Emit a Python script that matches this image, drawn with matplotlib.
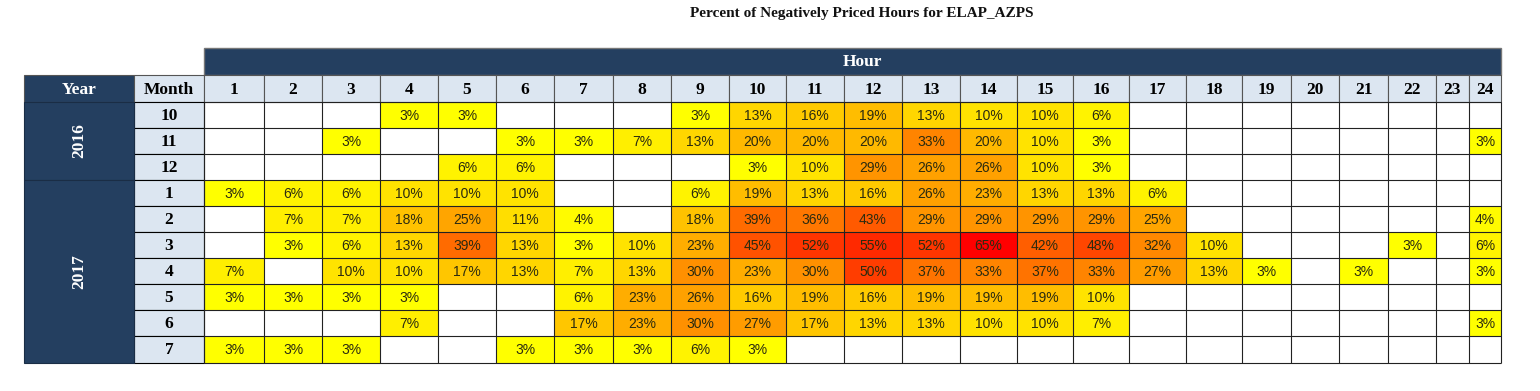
import numpy as np
import matplotlib.pyplot as plt
from matplotlib.colors import LinearSegmentedColormap
from matplotlib.patches import Rectangle

# ==========================================
# DATA: percent of negatively priced hours (None = none)
# ==========================================
hours = [str(h) for h in range(1, 25)]
years = ['2016', '2017']
months_2016 = ['10', '11', '12']
months_2017 = ['1', '2', '3', '4', '5', '6', '7']

N = None
pct_2016_10 = [N, N, N, 3, 3, N, N, N, 3, 13, 16, 19, 13, 10, 10, 6, N, N, N, N, N, N, N, N]
pct_2016_11 = [N, N, 3, N, N, 3, 3, 7, 13, 20, 20, 20, 33, 20, 10, 3, N, N, N, N, N, N, N, 3]
pct_2016_12 = [N, N, N, N, 6, 6, N, N, N, 3, 10, 29, 26, 26, 10, 3, N, N, N, N, N, N, N, N]
pct_2017_01 = [3, 6, 6, 10, 10, 10, N, N, 6, 19, 13, 16, 26, 23, 13, 13, 6, N, N, N, N, N, N, N]
pct_2017_02 = [N, 7, 7, 18, 25, 11, 4, N, 18, 39, 36, 43, 29, 29, 29, 29, 25, N, N, N, N, N, N, 4]
pct_2017_03 = [N, 3, 6, 13, 39, 13, 3, 10, 23, 45, 52, 55, 52, 65, 42, 48, 32, 10, N, N, N, 3, N, 6]
pct_2017_04 = [7, N, 10, 10, 17, 13, 7, 13, 30, 23, 30, 50, 37, 33, 37, 33, 27, 13, 3, N, 3, N, N, 3]
pct_2017_05 = [3, 3, 3, 3, N, N, 6, 23, 26, 16, 19, 16, 19, 19, 19, 10, N, N, N, N, N, N, N, N]
pct_2017_06 = [N, N, N, 7, N, N, 17, 23, 30, 27, 17, 13, 13, 10, 10, 7, N, N, N, N, N, N, N, 3]
pct_2017_07 = [3, 3, 3, N, N, 3, 3, 3, 6, 3, N, N, N, N, N, N, N, N, N, N, N, N, N, N]

rows = [pct_2016_10, pct_2016_11, pct_2016_12,
        pct_2017_01, pct_2017_02, pct_2017_03, pct_2017_04,
        pct_2017_05, pct_2017_06, pct_2017_07]
months = months_2016 + months_2017
year_counts = [len(months_2016), len(months_2017)]

grid = np.array([[np.nan if v is None else v for v in r] for r in rows], dtype=float)

# ==========================================
# LAYOUT (pixels)
# ==========================================
NAVY = '#243f60'
LIGHT = '#dce6f1'
TXT = '#2b2b10'

col_w = [60, 58, 58, 58, 58, 58, 59, 58, 58, 57, 58, 58, 58, 57,
         56, 56, 57, 56, 49, 48, 49, 48, 33, 32]
row_h = [26] * 9 + [27]
x0_year, x0_month, x0_grid = 24, 134, 204
y_band, y_head, y0_grid = 48, 75, 102

x_edges = x0_grid + np.concatenate([[0], np.cumsum(col_w)])
y_edges = y0_grid + np.concatenate([[0], np.cumsum(row_h)])

fig = plt.figure(figsize=(15.4, 3.91), dpi=100)
ax = fig.add_axes([0, 0, 1, 1])
ax.set_xlim(0, 1540)
ax.set_ylim(391, 0)
ax.axis('off')

cmap = LinearSegmentedColormap.from_list('yr', ['#ffff00', '#ff0000'])
cmap.set_bad('white')
ax.pcolormesh(x_edges, y_edges, np.ma.masked_invalid(grid), cmap=cmap,
              vmin=np.nanmin(grid), vmax=np.nanmax(grid))

cell_font = 'Liberation Sans'
head_font = 'Liberation Serif'
HS = 12.5  # header font size

# cell labels
for i in range(grid.shape[0]):
    for j in range(grid.shape[1]):
        if not np.isnan(grid[i, j]):
            ax.text((x_edges[j] + x_edges[j + 1]) / 2, (y_edges[i] + y_edges[i + 1]) / 2 + 1,
                    f"{grid[i, j]:.0f}%", ha='center', va='center', fontsize=10,
                    color=TXT, family=cell_font)

# Hour band
ax.add_patch(Rectangle((x_edges[0], y_band), x_edges[-1] - x_edges[0], y_head - y_band,
                       facecolor=NAVY, edgecolor='#777777', lw=1))
ax.text(862, (y_band + y_head) / 2 + 1, 'Hour', ha='center', va='center', color='white',
        fontsize=HS, fontweight='bold', family=head_font)

# Year / Month headers
ax.add_patch(Rectangle((x0_year, y_head), x0_month - x0_year, y0_grid - y_head,
                       facecolor=NAVY, edgecolor='#555555', lw=0.8))
ax.text((x0_year + x0_month) / 2, (y_head + y0_grid) / 2 + 1, 'Year', ha='center', va='center',
        color='white', fontsize=HS, fontweight='bold', family=head_font)
ax.add_patch(Rectangle((x0_month, y_head), x0_grid - x0_month, y0_grid - y_head,
                       facecolor=LIGHT, edgecolor='#555555', lw=0.8))
ax.text((x0_month + x0_grid) / 2, (y_head + y0_grid) / 2 + 1, 'Month', ha='center', va='center',
        color='black', fontsize=HS, fontweight='bold', family=head_font)

# hour header cells
for j, h in enumerate(hours):
    ax.add_patch(Rectangle((x_edges[j], y_head), x_edges[j + 1] - x_edges[j], y0_grid - y_head,
                           facecolor=LIGHT, edgecolor='#555555', lw=0.8))
    ax.text((x_edges[j] + x_edges[j + 1]) / 2, (y_head + y0_grid) / 2 + 1, h, ha='center',
            va='center', color='black', fontsize=HS, fontweight='bold', family=head_font)

# month cells
for i, m in enumerate(months):
    ax.add_patch(Rectangle((x0_month, y_edges[i]), x0_grid - x0_month, y_edges[i + 1] - y_edges[i],
                           facecolor=LIGHT, edgecolor='black', lw=0.8))
    ax.text((x0_month + x0_grid) / 2, (y_edges[i] + y_edges[i + 1]) / 2 + 1, m, ha='center',
            va='center', color='black', fontsize=HS, fontweight='bold', family=head_font)

# year cells
start = 0
for yr, n in zip(years, year_counts):
    top, bot = y_edges[start], y_edges[start + n]
    ax.add_patch(Rectangle((x0_year, top), x0_month - x0_year, bot - top,
                           facecolor=NAVY, edgecolor='#1a2d45', lw=0.8))
    ax.text((x0_year + x0_month) / 2, (top + bot) / 2, yr, ha='center', va='center',
            rotation=90, color='white', fontsize=HS, fontweight='bold', family=head_font)
    start += n

# grid lines
ax.vlines(x_edges, y_edges[0], y_edges[-1], color='#222222', lw=0.8)
ax.hlines(y_edges, x_edges[0], x_edges[-1], color='#222222', lw=0.8)

ax.text(862, 13, 'Percent of Negatively Priced Hours for ELAP_AZPS', ha='center', va='center',
        fontsize=11, fontweight='bold', family=head_font, color='#111111')

plt.savefig('out.png', dpi=100)
